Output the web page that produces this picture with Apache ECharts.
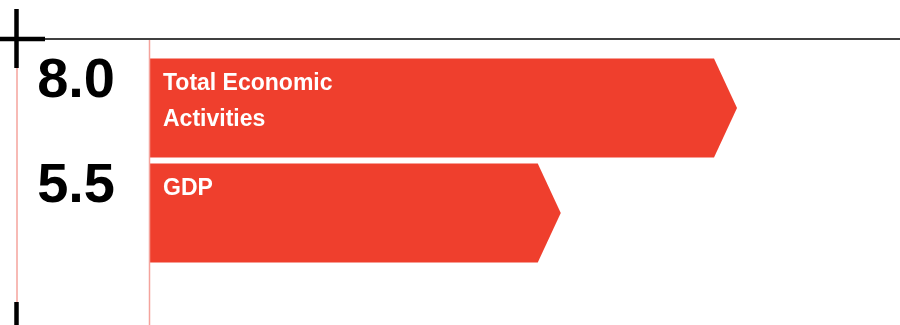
<!DOCTYPE html>
<html>
<head>
<meta charset="utf-8">
<script src="https://cdn.jsdelivr.net/npm/echarts@6/dist/echarts.min.js"></script>
<style>
  html, body { margin: 0; padding: 0; background: #fff; }
  #chart { width: 900px; height: 325px; }
</style>
</head>
<body>
<div id="chart"></div>
<script>
// Growth figures by sector
const categories = ['Total Economic Activities', 'GDP'];
const values = [8.0, 5.5];

const RED = '#ef3f2d';
const PINK = '#f4a39c';

const chart = echarts.init(document.getElementById('chart'), null, { renderer: 'canvas' });

// Arrow-shaped bar: rectangle body ending at the value, with a pointed tip
function renderArrow(params, api) {
  const idx = api.value(0);
  const v = api.value(1);
  const start = api.coord([0, idx]);
  const end = api.coord([v, idx]);
  const band = api.size([0, 1])[1];
  const h = band * 0.943;
  const top = start[1] - h / 2;
  const bottom = start[1] + h / 2;
  const tip = 23;
  return {
    type: 'group',
    children: [
      {
        type: 'polygon',
        shape: {
          points: [
            [start[0], top],
            [end[0], top],
            [end[0] + tip, start[1]],
            [end[0], bottom],
            [start[0], bottom]
          ]
        },
        style: { fill: RED }
      },
      {
        type: 'text',
        style: {
          text: v.toFixed(1),
          x: 115,
          y: top + 23,
          align: 'right',
          verticalAlign: 'middle',
          fill: '#000',
          font: 'bold 56px "Liberation Sans", Arial, sans-serif'
        }
      },
      {
        type: 'text',
        style: {
          text: categories[idx],
          x: start[0] + 13,
          y: top + 7,
          width: 200,
          overflow: 'break',
          lineHeight: 36,
          align: 'left',
          verticalAlign: 'top',
          fill: '#fff',
          font: 'bold 23px "Liberation Sans", Arial, sans-serif'
        }
      }
    ]
  };
}

chart.setOption({
  animation: false,
  grid: { left: 150, right: 45, top: 55.5, height: 210 },
  xAxis: {
    type: 'value', min: 0, max: 10, show: false
  },
  yAxis: {
    type: 'category', data: categories, inverse: true, show: false
  },
  graphic: [
    // top rule
    { type: 'line', shape: { x1: 44, y1: 39, x2: 900, y2: 39 }, style: { stroke: '#000', lineWidth: 1.6 } },
    // crosshair
    { type: 'line', shape: { x1: 0, y1: 39, x2: 45, y2: 39 }, style: { stroke: '#000', lineWidth: 4.5 } },
    { type: 'line', shape: { x1: 16.5, y1: 9, x2: 16.5, y2: 68 }, style: { stroke: '#000', lineWidth: 4.5 } },
    // left guide
    { type: 'line', shape: { x1: 17, y1: 68, x2: 17, y2: 302 }, style: { stroke: PINK, lineWidth: 1.5 } },
    { type: 'line', shape: { x1: 16.5, y1: 302, x2: 16.5, y2: 325 }, style: { stroke: '#000', lineWidth: 4.5 } },
    // baseline guide
    { type: 'line', shape: { x1: 149.5, y1: 40, x2: 149.5, y2: 325 }, style: { stroke: PINK, lineWidth: 1.5 }, z: 100 }
  ],
  series: [{
    type: 'custom',
    renderItem: renderArrow,
    encode: { x: 1, y: 0 },
    data: values.map((v, i) => [i, v])
  }]
});
</script>
</body>
</html>
